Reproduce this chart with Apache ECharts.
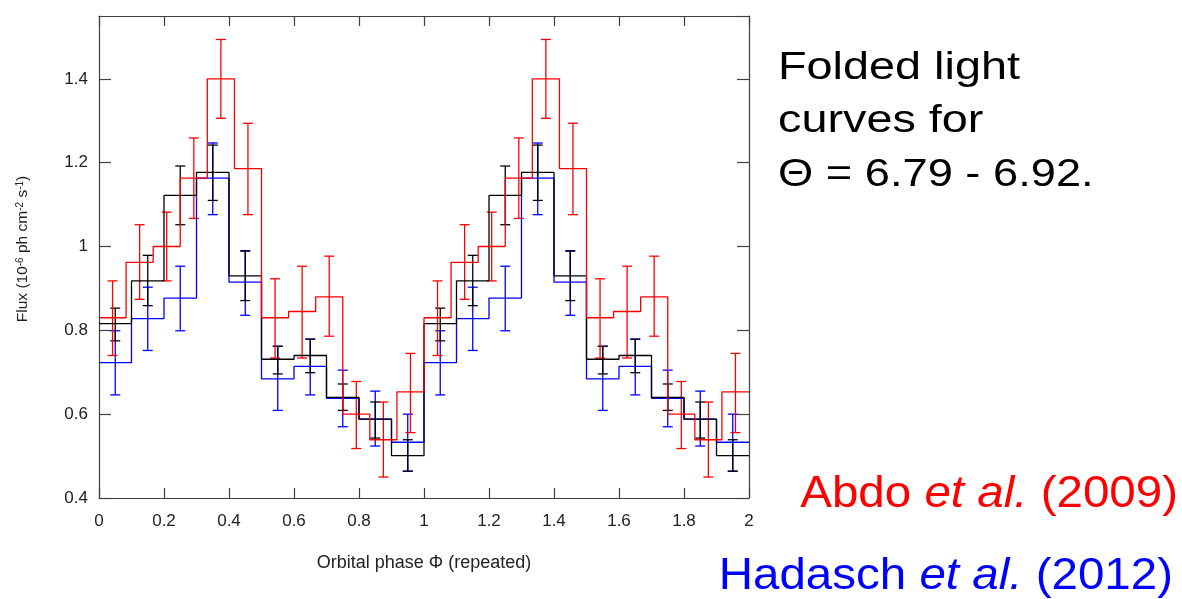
<!DOCTYPE html>
<html>
<head>
<meta charset="utf-8">
<script src="https://cdn.jsdelivr.net/npm/echarts@6/dist/echarts.min.js"></script>
<style>
html, body { margin: 0; padding: 0; background: #fff; }
#chart { width: 1182px; height: 599px; }
</style>
</head>
<body>
<div id="chart"></div>
<script>
// one orbital period; drawn twice (phase 0-1 and 1-2)
const binStart10 = [0, 0.1, 0.2, 0.3, 0.4, 0.5, 0.6, 0.7, 0.8, 0.9];
const binMid10 = [0.05, 0.15, 0.25, 0.35, 0.45, 0.55, 0.65, 0.75, 0.85, 0.95];
const binStart12 = [0, 0.0833, 0.1667, 0.25, 0.3333, 0.4167, 0.5, 0.5833, 0.6667, 0.75, 0.8333, 0.9167];
const binMid12 = [0.0417, 0.125, 0.2083, 0.2917, 0.375, 0.4583, 0.5417, 0.625, 0.7083, 0.7917, 0.875, 0.9583];

// Abdo et al. (2009), red, 12 bins
const abdoFlux = [0.830, 0.962, 1.000, 1.163, 1.400, 1.186, 0.830, 0.845, 0.880, 0.600, 0.539, 0.653];
const abdoLow = [0.740, 0.874, 0.918, 1.067, 1.306, 1.076, 0.734, 0.734, 0.786, 0.518, 0.450, 0.556];
const abdoHigh = [0.918, 1.052, 1.082, 1.259, 1.494, 1.294, 0.923, 0.953, 0.977, 0.678, 0.629, 0.745];

// Hadasch et al. (2012), blue, 10 bins
const hadaschFlux = [0.723, 0.828, 0.877, 1.163, 0.915, 0.684, 0.714, 0.638, 0.588, 0.533];
const hadaschLow = [0.646, 0.752, 0.799, 1.076, 0.836, 0.609, 0.646, 0.570, 0.524, 0.464];
const hadaschHigh = [0.799, 0.903, 0.953, 1.247, 0.990, 0.762, 0.779, 0.705, 0.655, 0.600];

// black curve, 10 bins
const blackFlux = [0.816, 0.918, 1.122, 1.177, 0.930, 0.731, 0.740, 0.640, 0.588, 0.501];
const blackLow = [0.775, 0.859, 1.052, 1.110, 0.871, 0.696, 0.699, 0.609, 0.543, 0.464];
const blackHigh = [0.853, 0.979, 1.192, 1.242, 0.989, 0.762, 0.779, 0.672, 0.629, 0.539];

const FONT = '"Liberation Sans", Arial, sans-serif';

function stepData(starts, flux) {
  const pts = [];
  for (let p = 0; p < 2; p++) {
    starts.forEach((s, i) => pts.push([s + p, flux[i]]));
  }
  pts.push([2, flux[flux.length - 1]]);
  return pts;
}

function errData(mids, lo, hi) {
  const rows = [];
  for (let p = 0; p < 2; p++) {
    mids.forEach((m, i) => rows.push([m + p, lo[i], hi[i]]));
  }
  return rows;
}

function errBars(color) {
  return function (params, api) {
    const top = api.coord([api.value(0), api.value(2)]);
    const bot = api.coord([api.value(0), api.value(1)]);
    const w = 5;
    const st = { stroke: color, lineWidth: 1.3 };
    return {
      type: 'group',
      children: [
        { type: 'line', shape: { x1: top[0], y1: top[1], x2: bot[0], y2: bot[1] }, style: st },
        { type: 'line', shape: { x1: top[0] - w, y1: top[1], x2: top[0] + w, y2: top[1] }, style: st },
        { type: 'line', shape: { x1: bot[0] - w, y1: bot[1], x2: bot[0] + w, y2: bot[1] }, style: st },
      ],
    };
  };
}

function stepSeries(name, data, color) {
  return {
    name: name,
    type: 'line',
    step: 'end',
    data: data,
    showSymbol: false,
    lineStyle: { color: color, width: 1.3 },
    itemStyle: { color: color },
    animation: false,
  };
}

function errSeries(name, data, color) {
  return {
    name: name,
    type: 'custom',
    data: data,
    encode: { x: 0, y: [1, 2] },
    renderItem: errBars(color),
    clip: false,
    animation: false,
  };
}

const axisLineStyle = { color: '#404040', width: 1.2 };

var chart = echarts.init(document.getElementById('chart'), null, { renderer: 'canvas' });

var option = {
  backgroundColor: '#fff',
  animation: false,
  grid: { left: 99, right: 433, top: 16, bottom: 101 },
  xAxis: [
    {
      type: 'value',
      min: 0,
      max: 2,
      interval: 0.2,
      position: 'bottom',
      axisLine: { onZero: false, lineStyle: axisLineStyle },
      axisTick: { inside: true, length: 10, lineStyle: axisLineStyle },
      axisLabel: { margin: 15, color: '#222', fontSize: 17, fontFamily: FONT },
      splitLine: { show: false },
      name: 'Orbital phase Φ (repeated)',
      nameLocation: 'middle',
      nameGap: 56,
      nameTextStyle: { color: '#222', fontSize: 18, fontFamily: FONT },
    },
    {
      type: 'value',
      min: 0,
      max: 2,
      interval: 0.2,
      position: 'top',
      axisLine: { onZero: false, lineStyle: axisLineStyle },
      axisTick: { inside: true, length: 10, lineStyle: axisLineStyle },
      axisLabel: { show: false },
      splitLine: { show: false },
    },
  ],
  yAxis: [
    {
      type: 'value',
      min: 0.4,
      max: 1.55,
      interval: 0.2,
      position: 'left',
      axisLine: { show: true, onZero: false, lineStyle: axisLineStyle },
      axisTick: { show: true, inside: true, length: 12, lineStyle: axisLineStyle },
      axisLabel: { margin: 11, color: '#222', fontSize: 17, fontFamily: FONT, showMaxLabel: false },
      splitLine: { show: false },
      name: 'Flux (10{s|-6} ph cm{s|-2} s{s|-1})',
      nameLocation: 'middle',
      nameGap: 68,
      nameRotate: 90,
      nameTextStyle: {
        color: '#222',
        fontSize: 15.5,
        fontFamily: FONT,
        padding: [0, 0, 0, 16],
        rich: { s: { fontSize: 10, fontFamily: FONT, color: '#222', verticalAlign: 'top' } },
      },
    },
    {
      type: 'value',
      min: 0.4,
      max: 1.55,
      interval: 0.2,
      position: 'right',
      axisLine: { show: true, onZero: false, lineStyle: axisLineStyle },
      axisTick: { show: true, inside: true, length: 12, lineStyle: axisLineStyle },
      axisLabel: { show: false },
      splitLine: { show: false },
    },
  ],
  series: [
    stepSeries('Hadasch et al. (2012)', stepData(binStart10, hadaschFlux), '#0000ff'),
    errSeries('Hadasch err', errData(binMid10, hadaschLow, hadaschHigh), '#0000ff'),
    stepSeries('black', stepData(binStart10, blackFlux), '#000000'),
    errSeries('black err', errData(binMid10, blackLow, blackHigh), '#000000'),
    stepSeries('Abdo et al. (2009)', stepData(binStart12, abdoFlux), '#ff0000'),
    errSeries('Abdo err', errData(binMid12, abdoLow, abdoHigh), '#ff0000'),
  ],
  graphic: [
    { type: 'text', x: 778, y: 68.4, scaleX: 1.2, style: { text: 'Folded light', fontSize: 39, fontFamily: FONT, fill: '#000', verticalAlign: 'middle' } },
    { type: 'text', x: 778, y: 121.7, scaleX: 1.2, style: { text: 'curves for', fontSize: 39, fontFamily: FONT, fill: '#000', verticalAlign: 'middle' } },
    { type: 'text', x: 778, y: 175.7, scaleX: 1.16, style: { text: 'Θ = 6.79 - 6.92.', fontSize: 39, fontFamily: FONT, fill: '#000', verticalAlign: 'middle' } },
    {
      type: 'text', x: 1178, y: 494.6, scaleX: 1.08,
      style: {
        text: '{n|Abdo }{i|et al.}{n| (2009)}',
        align: 'right', verticalAlign: 'middle', fill: '#ff0000',
        rich: {
          n: { fontSize: 44, fontFamily: FONT, fill: '#ff0000' },
          i: { fontSize: 44, fontFamily: FONT, fontStyle: 'italic', fill: '#ff0000' },
        },
      },
    },
    {
      type: 'text', x: 1173, y: 576.6, scaleX: 1.08,
      style: {
        text: '{n|Hadasch }{i|et al.}{n| (2012)}',
        align: 'right', verticalAlign: 'middle', fill: '#0000ff',
        rich: {
          n: { fontSize: 44, fontFamily: FONT, fill: '#0000ff' },
          i: { fontSize: 44, fontFamily: FONT, fontStyle: 'italic', fill: '#0000ff' },
        },
      },
    },
  ],
};

option && chart.setOption(option);
</script>
</body>
</html>
